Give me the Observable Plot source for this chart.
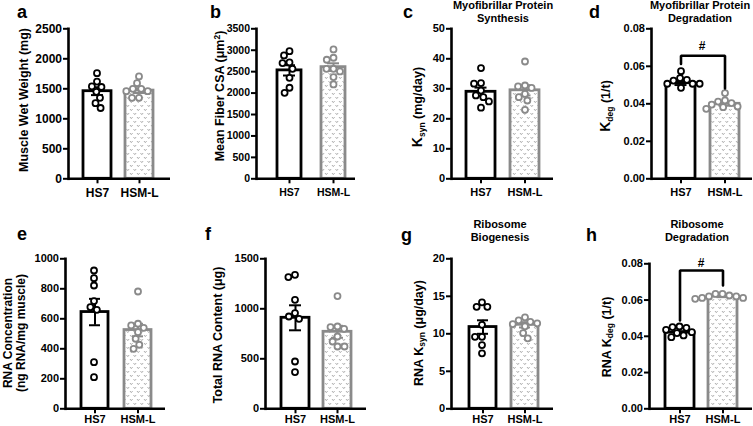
<!DOCTYPE html>
<html><head><meta charset="utf-8">
<script src="https://cdn.jsdelivr.net/npm/d3@7"></script>
<script src="https://cdn.jsdelivr.net/npm/@observablehq/plot@0.6"></script>
<style>
body{margin:0;background:#fff;}
#chart{position:relative;width:753px;height:426px;overflow:hidden;font-family:"Liberation Sans",Arial,sans-serif;font-weight:bold;color:#000;}
#chart svg{position:absolute;}
.abs{position:absolute;white-space:nowrap;}
.letter{font-size:18px;line-height:18px;}
.title{font-size:11px;line-height:12.5px;text-align:center;transform:translateX(-50%);}
.ylab{line-height:12.5px;text-align:center;transform:translate(-50%,-50%) rotate(-90deg);}
.ylab sub{font-size:0.68em;vertical-align:-0.3em;line-height:0;}
.ylab sup{font-size:0.68em;vertical-align:0.5em;line-height:0;}
.ylab .k{font-size:1.12em;}
</style></head><body>
<svg width="0" height="0" style="position:absolute">
  <defs>
    <pattern id="pat" width="7" height="8" patternUnits="userSpaceOnUse">
      <path d="M0.6,1.2 l1.2,1.3 l1.2,-1.3 M4.1,5.2 l1.2,1.3 l1.2,-1.3" fill="none" stroke="#969696" stroke-width="0.95"/>
    </pattern>
  </defs>
</svg>
<div id="chart"></div>
<script>
const groups = ["HS7", "HSM-L"];

// a — Muscle wet weight (mg)
const weightHS7 = [1760, 1620, 1540, 1530, 1450, 1350, 1260, 1180];
const weightHSML = [1706, 1594, 1500, 1500, 1461, 1461, 1350, 1350];
const weightMean = [1460, 1470];
const weightSEM = [65, 40];
const weightTicks = [0, 500, 1000, 1500, 2000, 2500];

// b — Mean fiber CSA (µm²)
const csaHS7 = [2979, 2878, 2715, 2700, 2567, 2357, 2124, 2007];
const csaHSML = [3018, 2824, 2778, 2567, 2567, 2505, 2373, 2201];
const csaMean = [2530, 2605];
const csaSEM = [120, 90];
const csaTicks = [0, 500, 1000, 1500, 2000, 2500, 3000, 3500];

// c — Myofibrillar protein synthesis, Ksyn (mg/day)
const ksynHS7 = [36.9, 31.9, 31.7, 29.4, 27.8, 27.2, 25.8, 23.7];
const ksynHSML = [39.1, 31.1, 30.8, 30.3, 28.3, 27.2, 26.1, 23.0];
const ksynMean = [29.0, 29.5];
const ksynSEM = [1.4, 1.7];
const ksynTicks = [0, 10, 20, 30, 40, 50];

// d — Myofibrillar protein degradation, Kdeg (1/t)
const kdegHS7 = [0.0574, 0.0537, 0.0528, 0.0524, 0.0507, 0.0507, 0.0507, 0.0485];
const kdegHSML = [0.0457, 0.0418, 0.0412, 0.0404, 0.0396, 0.0386, 0.0382, 0.0373];
const kdegMean = [0.051, 0.040];
const kdegSEM = [0.001, 0.001];
const kdegTicks = [0, 0.02, 0.04, 0.06, 0.08];
const kdegBracket = [0.0612, 0.0656, 0.0656, 0.0482];
const kdegHashY = 0.0688;

// e — RNA concentration (ng RNA/mg muscle)
const rnaConcHS7 = [922, 871, 822, 718, 678, 660, 311, 211];
const rnaConcHSML = [782, 567, 556, 540, 511, 467, 427, 400];
const rnaConcMean = [645, 525];
const rnaConcSEM = [88, 42];
const rnaConcTicks = [0, 200, 400, 600, 800, 1000];

// f — Total RNA content (µg)
const rnaTotHS7 = [1340, 1317, 1090, 957, 923, 900, 473, 367];
const rnaTotHSML = [1127, 823, 817, 800, 723, 673, 623, 623];
const rnaTotMean = [910, 770];
const rnaTotSEM = [125, 60];
const rnaTotTicks = [0, 500, 1000, 1500];

// g — Ribosome biogenesis, RNA Ksyn (µg/day)
const rnaKsynHS7 = [14.2, 13.6, 13.6, 11.2, 9.6, 9.6, 8.5, 7.4];
const rnaKsynHSML = [12.2, 11.8, 11.6, 11.4, 11.3, 11.0, 10.1, 9.4];
const rnaKsynMean = [10.9, 11.2];
const rnaKsynSEM = [0.9, 0.35];
const rnaKsynTicks = [0, 5, 10, 15, 20];

// h — Ribosome degradation, RNA Kdeg (1/t)
const rnaKdegHS7 = [0.0454, 0.0451, 0.0447, 0.0436, 0.0423, 0.0418, 0.0405, 0.0395];
const rnaKdegHSML = [0.0634, 0.0634, 0.0625, 0.0620, 0.0620, 0.0612, 0.0612, 0.0607];
const rnaKdegMean = [0.042, 0.062];
const rnaKdegSEM = [0.0008, 0.0004];
const rnaKdegTicks = [0, 0.02, 0.04, 0.06, 0.08];
const rnaKdegBracket = [0.0487, 0.0763, 0.0763, 0.0680];
const rnaKdegHashY = 0.0785;

const groupStyle = {
  "HS7": {stroke: "#000", fill: "#fff"},
  "HSM-L": {stroke: "#8a8a8a", fill: "url(#pat)"}
};

const colLeft = [0, 188, 376, 564], colW = [188, 188, 188, 189];
const rowTop = [0, 210], rowH = [210, 216];
const rowTickPad = [4.5, 1.5];

const panels = [
  {col:0,row:0, axis:68,  end:170, pTop:28.3,  pBot:178.3, c:[96.5,138.5], bw:28, fs:12,   ticks:weightTicks, fmt:"d", hs7:weightHS7, hsml:weightHSML, mean:weightMean, sem:weightSEM},
  {col:1,row:0, axis:256, end:355, pTop:28.3,  pBot:178.3, c:[289,333],   bw:24, fs:10.5, ticks:csaTicks, fmt:"d", hs7:csaHS7, hsml:csaHSML, mean:csaMean, sem:csaSEM},
  {col:2,row:0, axis:451, end:553, pTop:28.3,  pBot:178.3, c:[480.5,524.5], bw:29, fs:11, ticks:ksynTicks, fmt:"d", hs7:ksynHS7, hsml:ksynHSML, mean:ksynMean, sem:ksynSEM},
  {col:3,row:0, axis:651, end:752, pTop:28.3,  pBot:178.3, c:[680.5,724.5], bw:29, fs:11, ticks:kdegTicks, fmt:".2f", hs7:kdegHS7, hsml:kdegHSML, mean:kdegMean, sem:kdegSEM, bracket:kdegBracket, hashY:kdegHashY},
  {col:0,row:1, axis:65,  end:165, pTop:258.3, pBot:408.3, c:[94,138],     bw:28, fs:11, ticks:rnaConcTicks, fmt:"d", hs7:rnaConcHS7, hsml:rnaConcHSML, mean:rnaConcMean, sem:rnaConcSEM},
  {col:1,row:1, axis:265, end:366, pTop:258.3, pBot:408.3, c:[294.5,337],  bw:28, fs:11, ticks:rnaTotTicks, fmt:"d", hs7:rnaTotHS7, hsml:rnaTotHSML, mean:rnaTotMean, sem:rnaTotSEM},
  {col:2,row:1, axis:451, end:553, pTop:258.3, pBot:408.3, c:[482,525],    bw:28, fs:11, ticks:rnaKsynTicks, fmt:"d", hs7:rnaKsynHS7, hsml:rnaKsynHSML, mean:rnaKsynMean, sem:rnaKsynSEM},
  {col:3,row:1, axis:649, end:752, pTop:263.3, pBot:408.3, c:[679,722],    bw:29, fs:11, ticks:rnaKdegTicks, fmt:".2f", hs7:rnaKdegHS7, hsml:rnaKdegHSML, mean:rnaKdegMean, sem:rnaKdegSEM, bracket:rnaKdegBracket, hashY:rnaKdegHashY}
];

const chart = document.getElementById("chart");

function makePanel(p) {
  const left = colLeft[p.col], w = colW[p.col], top = rowTop[p.row], h = rowH[p.row];
  const ml = p.axis - left, mr = left + w - p.end, mt = p.pTop - top, mb = top + h - p.pBot;
  const s = p.c[1] - p.c[0];
  const pi = 1 - p.bw / s;
  const Lr = p.end - p.axis;
  const po = (Lr / s - 2 + pi) / 2;
  const align = (p.c[0] - p.bw / 2 - p.axis) / (Lr - s - p.bw);
  const xOpts = {domain: groups, paddingInner: pi, paddingOuter: po, align};
  const xs = Plot.scale({x: {type: "band", ...xOpts, range: [ml, w - mr]}});
  const mid = (ml + w - mr) / 2;
  const yMax = p.ticks[p.ticks.length - 1];
  const capInset = (p.bw - 12) / 2;

  const marks = [];
  groups.forEach((g, i) => {
    const st = groupStyle[g];
    const sum = [{group: g, mean: p.mean[i], lo: p.mean[i] - p.sem[i], hi: p.mean[i] + p.sem[i]}];
    const pts = (i === 0 ? p.hs7 : p.hsml).map(v => ({group: g, v}));
    marks.push(
      Plot.barY(sum, {x: "group", y: "mean", fill: st.fill, stroke: st.stroke, strokeWidth: 2.8}),
      Plot.ruleX(sum, {x: "group", y1: "lo", y2: "hi", stroke: st.stroke, strokeWidth: 2}),
      Plot.tickY(sum, {x: "group", y: "hi", stroke: st.stroke, strokeWidth: 2, insetLeft: capInset, insetRight: capInset}),
      Plot.tickY(sum, {x: "group", y: "lo", stroke: st.stroke, strokeWidth: 2, insetLeft: capInset, insetRight: capInset}),
      // Plot shifts marks on a band x scale by half a band; the dodge is centred on the frame middle
      Plot.dot(pts, Plot.dodgeX({anchor: "middle", padding: 1, y: "v", r: 3,
        dx: xs.apply(g) - mid, fill: "#fff", stroke: st.stroke, strokeWidth: 1.8}))
    );
  });
  if (p.bracket) {
    const br = p.bracket.map((v, k) => ({group: groups[k < 2 ? 0 : 1], v}));
    marks.push(
      Plot.line(br, {x: "group", y: "v", stroke: "#000", strokeWidth: 2.6, strokeLinejoin: "miter"}),
      Plot.text([p.hashY], {y: d => d, text: () => "#", fontSize: 12, fontWeight: "bold", lineAnchor: "bottom"})
    );
  }
  marks.push(
    Plot.ruleY([0], {strokeWidth: 2.6}),
    Plot.frame({anchor: "left", strokeWidth: 2.6}),
    Plot.axisY({ticks: p.ticks, tickFormat: p.fmt, tickSize: 5, tickPadding: 1.5, strokeWidth: 2, label: null, fontSize: p.fs, fontWeight: "bold"}),
    Plot.axisX({tickSize: 5, tickPadding: rowTickPad[p.row], strokeWidth: 2, label: null, fontSize: p.fs, fontWeight: "bold"})
  );

  const svg = Plot.plot({
    width: w, height: h,
    marginLeft: ml, marginRight: mr, marginTop: mt, marginBottom: mb,
    x: xOpts,
    y: {domain: [0, yMax]},
    style: {fontFamily: '"Liberation Sans", Arial, sans-serif', fontSize: "12px", fontWeight: "bold", color: "#000", background: "transparent", overflow: "visible"},
    marks
  });
  svg.style.left = left + "px";
  svg.style.top = top + "px";
  chart.append(svg);
}
panels.forEach(makePanel);

function addText(html, cls, css) {
  const d = document.createElement("div");
  d.className = "abs " + cls;
  d.innerHTML = html;
  Object.assign(d.style, css);
  chart.append(d);
}

// panel letters
const letters = ["a", "b", "c", "d", "e", "f", "g", "h"];
const letterPos = [[17, 3], [210, 3], [403, 2.5], [589, 2.5], [17, 225], [205, 225], [401, 226], [586, 226]];
letters.forEach((l, i) => addText(l, "letter", {left: letterPos[i][0] + "px", top: letterPos[i][1] + "px"}));

// titles
const titles = [
  ["Myofibrillar Protein<br>Synthesis", 503, -1],
  ["Myofibrillar Protein<br>Degradation", 700, -1],
  ["Ribosome<br>Biogenesis", 500, 218],
  ["Ribosome<br>Degradation", 697, 218]
];
titles.forEach(([t, x, y]) => addText(t, "title", {left: x + "px", top: y + "px"}));

// y-axis labels: text, centre x, centre y, font size
const yLabels = [
  ["Muscle Wet Weight (mg)", 24, 100, 12.5],
  ["Mean Fiber CSA (μm<sup>2</sup>)", 220, 96, 12.5],
  ["<span class='k'>K</span><sub>syn</sub> (mg/day)", 418, 107, 12.5],
  ["<span class='k'>K</span><sub>deg</sub> (1/t)", 606, 106, 12.5],
  ["RNA Concentration<br>(ng RNA/mg muscle)", 14, 333, 12],
  ["Total RNA Content (μg)", 218, 335, 12.5],
  ["RNA K<sub>syn</sub> (μg/day)", 419, 333, 12.5],
  ["RNA K<sub>deg</sub> (1/t)", 607, 337, 12.5]
];
yLabels.forEach(([t, x, y, fs]) => addText(t, "ylab", {left: x + "px", top: y + "px", fontSize: fs + "px"}));
</script>
</body></html>
